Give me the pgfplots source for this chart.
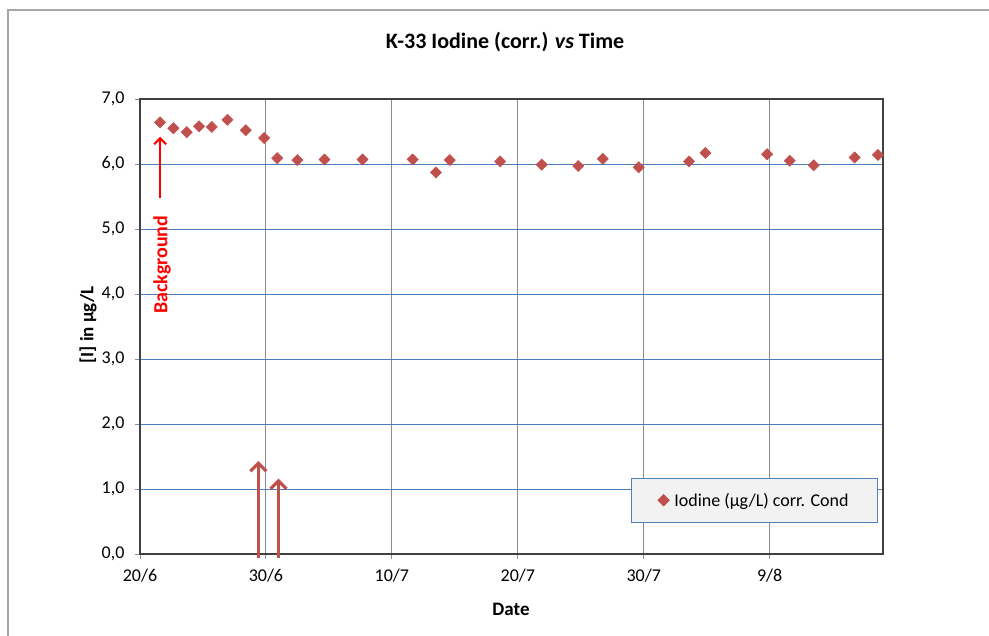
\documentclass[border=0pt]{standalone}
\usepackage{pgfplots}
\pgfplotsset{compat=1.18}
\usepackage{fontspec}
\setmainfont{Carlito}
\usetikzlibrary{arrows.meta}
\definecolor{ser}{HTML}{C0504D}
\definecolor{gridblue}{HTML}{4A7EBB}
\definecolor{gridgray}{HTML}{8C8C8C}
\definecolor{legblue}{HTML}{4F81BD}
\begin{document}
\begin{tikzpicture}[x=1pt,y=1pt]
\draw[gray!70, line width=1.2pt] (8,-636) -- (8,-10) -- (995,-10);
\begin{axis}[
  at={(140pt,-554pt)}, anchor=south west,
  scale only axis, width=743pt, height=455pt,
  xmin=0, xmax=59, ymin=0, ymax=7,
  xtick={0,10,20,30,40,50},
  xticklabels={20/6,30/6,10/7,20/7,30/7,9/8},
  ytick={0,1,2,3,4,5,6,7},
  /pgf/number format/fixed,
  /pgf/number format/fixed zerofill,
  /pgf/number format/precision=1,
  /pgf/number format/use comma,
  /pgf/number format/assume math mode=true,
  tick label style={font=\fontsize{18}{21}\selectfont},
  xticklabel style={yshift=-6pt},
  yticklabel style={xshift=-7pt},
  tick align=outside, tick pos=left, major tick length=5pt,
  tick style={gridgray, line width=1pt},
  xmajorgrids, ymajorgrids,
  x grid style={gridgray, line width=1pt},
  y grid style={gridblue, line width=0.8pt},
  axis line style={black!75, line width=1.3pt},
  clip=false,
  legend style={at={(rel axis cs:1,0)}, anchor=south east, xshift=-5pt, yshift=31pt,
    fill=black!5, draw=legblue, line width=0.8pt, inner xsep=27pt, inner ysep=13pt,
    font=\fontsize{18}{21}\selectfont, legend cell align=left,
    /tikz/every odd column/.append style={column sep=3pt}},
]
\addplot[only marks, mark=square*, mark size=4pt, color=ser,
  every mark/.append style={rotate=45}] coordinates {
(1.59,6.64) (2.65,6.55) (3.71,6.49) (4.69,6.58) (5.70,6.57) (6.94,6.68)
(8.40,6.52) (9.86,6.40) (10.90,6.09) (12.50,6.06) (14.65,6.07) (17.67,6.07)
(21.65,6.07) (23.50,5.87) (24.60,6.06) (28.60,6.04) (31.90,5.99) (34.80,5.97)
(36.75,6.08) (39.60,5.95) (43.60,6.04) (44.90,6.17) (49.80,6.15) (51.60,6.05)
(53.50,5.98) (56.75,6.10) (58.60,6.14)
};
\addlegendentry{Iodine (µg/L) corr. Cond}
\draw[-{Straight Barb[length=6pt,width=12pt]}, red, line width=2.2pt] (axis cs:1.6,5.48) -- (axis cs:1.6,6.42);
\node[rotate=90, red, font=\bfseries\fontsize{20}{24}\selectfont] at (axis cs:1.75,4.45) {Background};
\draw[-{Straight Barb[length=8pt,width=16pt]}, ser, line width=3.2pt] (axis cs:9.4,-0.06) -- (axis cs:9.4,1.43);
\draw[-{Straight Barb[length=8pt,width=16pt]}, ser, line width=3.2pt] (axis cs:11.0,-0.06) -- (axis cs:11.0,1.16);
\end{axis}
\node[font=\bfseries\fontsize{22}{26}\selectfont] at (505,-42) {K-33 Iodine (corr.) \textit{vs} Time};
\node[font=\bfseries\fontsize{19}{22}\selectfont] at (511,-609) {Date};
\node[rotate=90, font=\bfseries\fontsize{19}{22}\selectfont] at (88,-325) {[I] in µg/L};
\pgfresetboundingbox
\path (0,0) rectangle (989,-636);
\end{tikzpicture}
\end{document}
